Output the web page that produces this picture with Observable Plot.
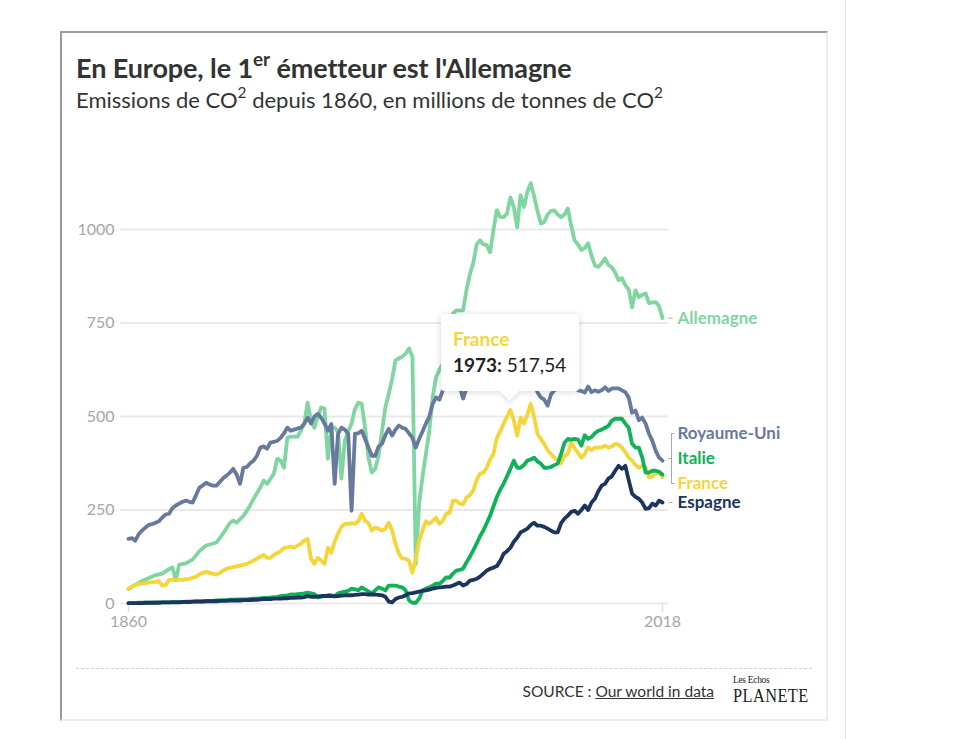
<!DOCTYPE html>
<html>
<head>
<meta charset="utf-8">
<script src="https://cdn.jsdelivr.net/npm/d3@7"></script>
<script src="https://cdn.jsdelivr.net/npm/@observablehq/plot@0.6"></script>
<style>
  html, body { margin: 0; padding: 0; background: #fff; }
  body { width: 966px; height: 739px; position: relative; overflow: hidden; font-family: Lato, "Source Sans Pro", sans-serif; color: #333; }
  #card { position: absolute; left: 60px; top: 31px; width: 764px; height: 686px;
          border-top: 2px solid #9b9b9b; border-left: 2px solid #9b9b9b; border-right: 2px solid #ececec; border-bottom: 2px solid #ececec; }
  #sep { position: absolute; left: 845px; top: 0; width: 1px; height: 739px; background: #e4e4e4; }
  #title { position: absolute; left: 76px; top: 54px; font-size: 27px; font-weight: 700; line-height: 27px; color: #333; white-space: nowrap; letter-spacing: -0.1px; }
  #title sup, #subtitle sup { font-size: 70%; line-height: 0; position: relative; top: -0.1em; vertical-align: super; }
  #subtitle { position: absolute; left: 76px; top: 89px; font-size: 22px; font-weight: 400; line-height: 22px; color: #333; white-space: nowrap; }
  #plot { position: absolute; left: 60px; top: 140px; }
  #footerline { position: absolute; left: 76px; top: 668px; width: 736px; border-top: 1px dashed #d2d2d2; }
  #source { position: absolute; right: 252px; top: 682px; font-size: 15.5px; color: #333; white-space: nowrap; }
  #source a { color: #333; text-decoration: underline; }
  .logo { position: absolute; left: 733px; font-family: "Liberation Serif", "DejaVu Serif", serif; color: #222; white-space: nowrap; transform-origin: left; }
  #les { top: 673px; font-size: 11px; line-height: 12px; transform: scaleX(0.85); letter-spacing: -0.3px; }
  #pl { top: 686px; font-size: 19px; line-height: 20px; transform: scaleX(0.86); letter-spacing: 0.5px; }
  #tip { position: absolute; background: #fff; border-radius: 3px; box-shadow: 0 1px 7px rgba(0,0,0,0.16); width: 138px; height: 77px; box-sizing: border-box; padding: 13px 0 0 12px; }
  #tip .t1 { font-size: 19px; font-weight: 700; line-height: 24px; }
  #tip .t2 { font-size: 19px; color: #222; line-height: 27px; white-space: nowrap; }
  #tip .arrow { position: absolute; left: 62px; bottom: -7px; width: 13px; height: 13px; background: #fff; transform: rotate(45deg); box-shadow: 3px 3px 4px rgba(0,0,0,0.08); }
</style>
</head>
<body>
<div id="sep"></div>
<div id="card"></div>
<div id="title">En Europe, le 1<sup>er</sup> émetteur est l'Allemagne</div>
<div id="subtitle">Emissions de CO<sup>2</sup> depuis 1860, en millions de tonnes de CO<sup>2</sup></div>
<div id="plot"></div>
<div id="footerline"></div>
<div id="source">SOURCE : <a>Our world in data</a></div>
<div id="les" class="logo">Les Echos</div>
<div id="pl" class="logo">PLANETE</div>
<script>
// ---------------- DATA ----------------
const countries = ["Allemagne", "Royaume-Uni", "France", "Italie", "Espagne"];
const colors = ["#80d6a0", "#68799e", "#f4d53a", "#10b157", "#1c3460"];
const yTicks = [0, 250, 500, 750, 1000];
const xTicks = [1860, 2018];
const tooltipCountry = "France";
const tooltipYear = 1973;

const annualYears = d3.range(1860, 2019);

const allemagneYears = [1860,1862,1864,1866,1868,1870,1872,1873,1874,1875,1877,1879,1881,1883,1886,1888,1890,1891,1892,1894,1896,1897,1899,1900,1901,1903,1904,1905,1906,1907,1908,1910,1911,1912,1913,1914,1915,1916,1917,1918,1919,1920,1921,1922,1923,1924,1925,1926,1927,1928,1929,1930,1931,1932,1933,1934,1935,1936,1937,1938,1939,1940,1941,1942,1943,1944,1945,1946,1947,1948,1949,
  1950,1951,1952,1953,1954,1955,1956,1957,1958,1959,1960,1961,1962,1963,1964,1965,1966,1967,1968,1969,1970,1971,1972,1973,1974,1975,1976,1977,1978,1979,1980,1981,1982,1983,1984,1985,1986,1987,1988,1989,1990,1991,1992,1993,1994,1995,1996,1997,1998,1999,2000,2001,2002,2003,2004,2005,2006,2007,2008,2009,2010,2011,2012,2013,2014,2015,2016,2017,2018];
const allemagneValues = [39,50,60,68,76,80,92,96,62,104,107,118,140,155,163,187,215,222,216,234,262,280,310,329,320,347,387,382,363,443,446,446,462,480,537,489,470,500,524,521,387,470,470,460,334,435,460,481,520,537,534,470,390,350,360,395,460,524,560,600,650,655,660,668,682,660,105,267,340,400,462,
  551,605,625,642,690,730,775,784,784,784,838,880,910,960,971,960,958,939,1000,1052,1033,1033,1043,1086,1060,1006,1092,1060,1100,1124,1090,1050,1016,1020,1040,1050,1051,1040,1033,1040,1056,1010,971,960,945,950,963,930,904,900,910,923,905,899,885,864,870,851,840,792,837,819,825,829,803,805,806,795,763];

const royaumeUniValues = [173,175,168,185,195,203,210,212,216,220,
  230,238,240,255,262,267,272,275,272,270,
  290,310,316,323,318,315,315,325,335,342,
  350,360,345,320,363,365,375,382,395,417,
  420,414,430,432,435,443,455,470,462,465,
  468,470,481,497,481,500,507,497,481,462,
  480,320,454,470,465,454,248,454,455,462,
  440,417,395,395,420,427,450,467,449,465,
  476,470,467,455,443,417,440,460,481,500,
  534,551,545,570,580,590,595,590,580,548,
  575,590,600,610,615,625,625,615,630,645,
  655,650,640,660,620,600,605,610,615,640,
  590,565,551,545,529,559,570,575,575,580,
  588,590,578,570,568,564,580,565,570,566,
  570,578,568,575,575,575,570,565,551,510,
  516,490,497,481,454,435,408,390,382];

const franceValues = [39,45,50,52,53,55,56,57,58,60,
  48,50,63,63,63,63,63,65,66,69,
  72,78,82,85,82,80,77,82,88,93,
  95,97,99,101,104,106,110,115,120,125,
  130,122,122,130,135,140,149,150,152,149,
  155,160,168,173,120,106,122,115,106,149,
  136,165,187,205,213,213,215,213,220,240,
  221,215,195,203,200,195,200,216,195,160,
  133,120,120,114,82,120,168,195,220,213,
  221,229,213,221,240,243,275,275,267,265,
  283,290,302,330,347,350,363,385,400,443,
  460,481,500,517.54,490,449,497,481,505,534,
  500,454,440,427,410,400,390,382,375,395,
  400,430,415,403,390,400,417,410,417,417,
  418,422,417,420,427,425,417,405,390,382,
  370,363,368,365,337,340,347,350,338];

const italieValues = [1,1,1,2,2,2,2,2,3,3,
  3,3,3,4,4,4,4,5,5,5,
  6,6,6,7,7,7,8,8,9,9,
  10,10,10,11,11,11,12,13,13,14,
  15,15,16,17,18,20,21,22,24,24,
  25,26,27,29,27,25,16,18,20,22,
  22,20,27,30,32,34,40,38,35,43,
  38,32,27,35,43,40,35,48,48,48,
  45,43,35,8,2,2,13,35,40,43,
  48,53,53,60,70,69,80,88,90,93,
  110,125,142,160,180,195,215,235,260,285,
  305,320,340,360,382,363,363,370,382,385,
  390,380,374,363,363,365,370,374,400,430,
  440,438,440,438,422,450,440,445,455,462,
  465,470,475,489,494,494,494,481,470,427,
  417,417,390,350,350,355,355,352,345];

const espagneValues = [1,1,1,1,1,2,2,2,2,2,
  3,3,3,3,3,3,4,4,4,5,
  5,5,5,6,6,6,6,7,7,7,
  8,8,8,8,9,9,9,10,10,11,
  12,12,12,13,13,13,14,14,15,15,
  16,16,17,20,18,18,19,20,20,20,
  20,19,20,21,22,22,22,23,24,25,
  25,24,24,24,23,22,18,5,3,12,
  16,18,22,27,28,30,32,34,35,37,
  40,42,43,44,45,45,48,52,56,48,
  52,61,63,66,72,80,88,93,96,100,
  114,133,140,149,165,176,190,195,200,210,
  216,208,208,205,200,195,190,190,215,227,
  235,245,248,240,250,262,250,270,280,300,
  315,320,334,340,355,368,360,368,330,294,
  285,280,270,253,255,267,262,275,270];

// ---------------- BUILD ----------------
const FONT = 'Lato, "Source Sans Pro", sans-serif';
const series = [
  {name: "Allemagne", years: allemagneYears, values: allemagneValues},
  {name: "Royaume-Uni", years: annualYears, values: royaumeUniValues},
  {name: "France", years: annualYears, values: franceValues},
  {name: "Italie", years: annualYears, values: italieValues},
  {name: "Espagne", years: annualYears, values: espagneValues}
];
const rows = series.flatMap(s => s.years.map((year, i) => ({country: s.name, year, value: s.values[i]})));
const colorOf = name => colors[countries.indexOf(name)];

const SVG_LEFT = 60, SVG_TOP = 140;
const base = {
  width: 766, height: 520,
  marginLeft: 60, marginRight: 158, marginTop: 89, marginBottom: 57,
  style: {fontFamily: FONT, fontSize: "16px", color: "#a6a6a6", background: "transparent", overflow: "visible"},
  x: {domain: [1860, 2018], insetLeft: 8, insetRight: 6, ticks: xTicks, tickFormat: d => String(d), tickSize: 0, tickPadding: 12, label: null},
  y: {domain: [0, 1000], ticks: yTicks, tickFormat: d => String(d), tickSize: 0, tickPadding: 6, label: null},
  color: {domain: countries, range: colors}
};

const probe = Plot.plot({...base, marks: [Plot.ruleY([0])]});
const xs = probe.scale("x"), ys = probe.scale("y");
const ppy = xs.apply(2019) - xs.apply(2018);
const px2yr = p => p / ppy;
const pyToVal = p => ys.invert(p);

// label placement: cluster overlapping ends, spread them, avoid collisions
const ends = series.map(s => ({name: s.name, year: s.years[s.years.length - 1], value: s.values[s.values.length - 1]}));
ends.forEach(e => e.py = ys.apply(e.value));
ends.sort((a, b) => a.py - b.py);
const groups = [];
for (const e of ends) {
  const g = groups[groups.length - 1];
  if (g && e.py - g[g.length - 1].py < 20) g.push(e); else groups.push([e]);
}
const lineGap = 25, minGap = 19;
groups.forEach(g => { const m = d3.mean(g, e => e.py); g.forEach((e, i) => e.ly = m + (i - (g.length - 1) / 2) * lineGap); });
for (let i = groups.length - 2; i >= 0; i--) {
  const g = groups[i], next = groups[i + 1];
  const over = g[g.length - 1].ly - (next[0].ly - minGap);
  if (over > 0) g.forEach(e => e.ly -= over);
}
ends.forEach(e => e.labelValue = pyToVal(e.ly));
const singles = groups.filter(g => g.length === 1).map(g => g[0]);
const clusters = groups.filter(g => g.length > 1);
const lastYear = 2018;

const bracketMarks = clusters.flatMap(g => {
  const top = g[0].labelValue, bottom = g[g.length - 1].labelValue;
  const bx = lastYear + px2yr(9);
  const segs = [{x1: bx, x2: bx, y1: top, y2: bottom},
                {x1: bx, x2: bx + px2yr(3), y1: top, y2: top},
                {x1: bx, x2: bx + px2yr(3), y1: bottom, y2: bottom}];
  g.slice(1, -1).forEach(e => segs.push({x1: bx - px2yr(3), x2: bx, y1: e.labelValue, y2: e.labelValue}));
  return [Plot.link(segs, {x1: "x1", x2: "x2", y1: "y1", y2: "y2", stroke: "#a8a8a8", strokeWidth: 1})];
});

const chart = Plot.plot({
  ...base,
  marks: [
    Plot.ruleY(yTicks, {stroke: "#e9e9e9", strokeWidth: 2}),
    Plot.ruleX(xTicks, {y1: 0, y2: pyToVal(ys.apply(0) + 9), stroke: "#dedede", strokeWidth: 1.5}),
    Plot.line(rows, {x: "year", y: "value", z: "country", stroke: "country", strokeWidth: 3.8, strokeLinejoin: "round", strokeLinecap: "round"}),
    Plot.link(singles, {x1: d => lastYear + px2yr(6), x2: d => lastYear + px2yr(10), y1: "labelValue", y2: "labelValue", stroke: "#a8a8a8", strokeWidth: 1}),
    ...bracketMarks,
    Plot.text(ends, {x: "year", y: "labelValue", text: "name", fill: "name", dx: 15, textAnchor: "start", fontWeight: 700, fontSize: 17, fontFamily: FONT})
  ]
});
document.getElementById("plot").appendChild(chart);

// tooltip anchored to the data point
const tipRow = rows.find(r => r.country === tooltipCountry && r.year === tooltipYear);
const tx = SVG_LEFT + xs.apply(tipRow.year), ty = SVG_TOP + ys.apply(tipRow.value);
const tip = document.createElement("div");
tip.id = "tip";
tip.style.left = (tx - 69) + "px";
tip.style.top = (ty - 95) + "px";
const fmt = v => v.toFixed(2).replace(".", ",");
tip.innerHTML = `<div class="t1" style="color:${colorOf(tooltipCountry)}">${tooltipCountry}</div><div class="t2"><b>${tipRow.year}:</b> ${fmt(tipRow.value)}</div><div class="arrow"></div>`;
document.body.appendChild(tip);
</script>
</body>
</html>
